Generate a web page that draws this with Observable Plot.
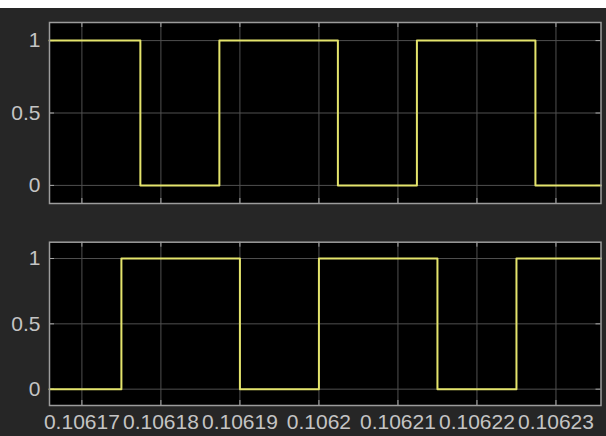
<!DOCTYPE html>
<html>
<head>
<meta charset="utf-8">
<script src="https://cdn.jsdelivr.net/npm/d3@7"></script>
<script src="https://cdn.jsdelivr.net/npm/@observablehq/plot@0.6"></script>
<style>
  html, body { margin: 0; padding: 0; background: #ffffff; }
  #wrap { position: relative; width: 606px; height: 436px; overflow: hidden; background: #ffffff; }
  #bg { position: absolute; left: 0; top: 8px; width: 606px; height: 428px; background: #262626; }
  #top { position: absolute; left: 0; top: 0; }
  #bottom { position: absolute; left: 0; top: 215px; }
  svg { display: block; overflow: visible; }
  #wrap svg text { font-size: 21px; font-family: 'Liberation Sans', Arial, sans-serif; }
</style>
</head>
<body>
<div id="wrap">
  <div id="bg"></div>
  <div id="top"></div>
  <div id="bottom"></div>
</div>
<script>
// ---- data ----
const xDomain = [0.1061659, 0.1062357];
const xTicks = [0.10617, 0.10618, 0.10619, 0.1062, 0.10621, 0.10622, 0.10623];
const xTickLabels = ["0.10617", "0.10618", "0.10619", "0.1062", "0.10621", "0.10622", "0.10623"];
const yTicks = [0, 0.5, 1];
const yTickLabels = ["0", "0.5", "1"];

// top signal: times where level changes, and level held from that time
const topTimes  = [0.1061659, 0.1061774, 0.1061874, 0.1062024, 0.1062124, 0.1062274, 0.1062357];
const topLevels = [1, 0, 1, 0, 1, 0, 0];

// bottom signal
const bottomTimes  = [0.1061659, 0.106175, 0.10619, 0.10620, 0.106215, 0.106225, 0.1062357];
const bottomLevels = [0, 1, 0, 1, 0, 1, 1];

const topData = topTimes.map((t, i) => ({t, v: topLevels[i]}));
const bottomData = bottomTimes.map((t, i) => ({t, v: bottomLevels[i]}));

const yellow = "#e4e46c";
const gridColor = "#505050";
const frameColor = "#9c9c9c";
const tickColor = "#a8a8a8";
const textColor = "#c4c4c4";

function scope(data, {height, marginTop, marginBottom, showX}) {
  const plotH = height - marginTop - marginBottom;
  const plotW = 606 - 49 - 5.5;
  const xLab = new Map(xTicks.map((d, i) => [d, xTickLabels[i]]));
  const yLab = new Map(yTicks.map((d, i) => [d, yTickLabels[i]]));
  return Plot.plot({
    width: 606,
    height,
    marginTop,
    marginBottom,
    marginLeft: 49,
    marginRight: 5.5,
    style: {
      background: "transparent",
      color: textColor,
      fontFamily: "'Liberation Sans', Arial, sans-serif",
      fontSize: "21px",
      overflow: "visible"
    },
    x: {domain: xDomain},
    y: {domain: [-0.125, 1.125]},
    marks: [
      Plot.frame({fill: "#000000"}),
      Plot.gridX(xTicks, {stroke: gridColor, strokeOpacity: 1}),
      Plot.gridY(yTicks, {stroke: gridColor, strokeOpacity: 1}),
      Plot.ruleX(xTicks, {stroke: tickColor, insetBottom: plotH - 5}),
      Plot.ruleX(xTicks, {stroke: tickColor, insetTop: plotH - 5}),
      Plot.ruleY(yTicks, {stroke: tickColor, insetRight: plotW - 5}),
      Plot.ruleY(yTicks, {stroke: tickColor, insetLeft: plotW - 5}),
      Plot.line(data, {x: "t", y: "v", curve: "step-after", stroke: yellow, strokeWidth: 2}),
      Plot.frame({stroke: frameColor, strokeWidth: 1.5}),
      Plot.axisY(yTicks, {tickSize: 0, tickPadding: 9, tickFormat: d => yLab.get(d), label: null}),
      showX
        ? Plot.axisX(xTicks, {tickSize: 0, tickPadding: 9, tickFormat: d => xLab.get(d), label: null})
        : Plot.axisX([], {label: null})
    ]
  });
}

document.getElementById("top").append(
  scope(topData, {height: 215, marginTop: 22, marginBottom: 12, showX: false})
);
document.getElementById("bottom").append(
  scope(bottomData, {height: 221, marginTop: 26.7, marginBottom: 31, showX: true})
);
</script>
</body>
</html>
